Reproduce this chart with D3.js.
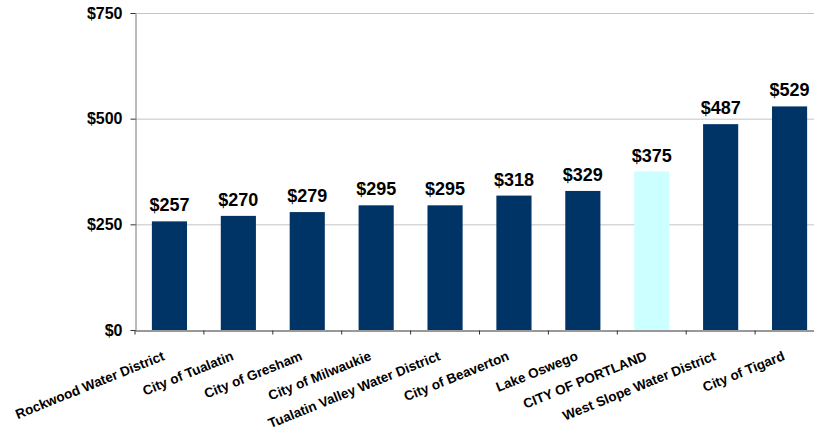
<!DOCTYPE html>
<html>
<head>
<meta charset="utf-8">
<script src="https://cdn.jsdelivr.net/npm/d3@7"></script>
<style>
  body { margin: 0; background: #fff; }
  svg { display: block; font-family: Arial, "Liberation Sans", sans-serif; }
</style>
</head>
<body>
<div id="chart"></div>
<script>
  // values
  const utilities = [
    "Rockwood Water District", "City of Tualatin", "City of Gresham", "City of Milwaukie",
    "Tualatin Valley Water District", "City of Beaverton", "Lake Oswego", "CITY OF PORTLAND",
    "West Slope Water District", "City of Tigard"
  ];
  const annualCost = [257, 270, 279, 295, 295, 318, 329, 375, 487, 529];
  const highlighted = ["CITY OF PORTLAND"];
  const yTickValues = [0, 250, 500, 750];

  (() => {
    const W = 814, H = 429;
    const plotLeft = 135, plotRight = 824, plotTop = 13, plotBottom = 330;

    const svg = d3.select("#chart").append("svg")
      .attr("width", W)
      .attr("height", H);

    const data = utilities.map((name, i) => ({ name, cost: annualCost[i] }));

    const x = d3.scaleBand()
      .domain(utilities)
      .range([plotLeft, plotRight])
      .paddingInner(0.49)
      .paddingOuter(0.245);

    // category slots (no padding) for the tick marks and labels
    const slot = d3.scaleBand().domain(utilities).range([plotLeft, plotRight]);

    const y = d3.scaleLinear()
      .domain([0, 750])
      .range([plotBottom, plotTop]);

    // Gridlines
    svg.append("g")
      .selectAll("line")
      .data(yTickValues.filter(d => d > 0))
      .join("line")
      .attr("x1", plotLeft)
      .attr("x2", W)
      .attr("y1", d => y(d) + 0.5)
      .attr("y2", d => y(d) + 0.5)
      .attr("stroke", "#c4c4c4")
      .attr("stroke-width", 1);

    // Bars
    svg.append("g")
      .selectAll("rect")
      .data(data)
      .join("rect")
      .attr("x", d => x(d.name))
      .attr("y", d => y(d.cost))
      .attr("width", x.bandwidth())
      .attr("height", d => y(0) - y(d.cost))
      .attr("fill", d => highlighted.includes(d.name) ? "#ccffff" : "#003366");

    // Value labels
    svg.append("g")
      .selectAll("text")
      .data(data)
      .join("text")
      .attr("x", d => x(d.name) + x.bandwidth() / 2)
      .attr("y", d => y(d.cost) - 10)
      .attr("text-anchor", "middle")
      .attr("font-size", 18)
      .attr("font-weight", "bold")
      .attr("fill", "#000")
      .text(d => "$" + d.cost);

    // Y axis
    const yAxis = svg.append("g")
      .attr("transform", `translate(${plotLeft + 0.5},0)`)
      .call(d3.axisLeft(y)
        .tickValues(yTickValues)
        .tickFormat(d => "$" + d)
        .tickSize(5)
        .tickSizeOuter(0)
        .tickPadding(8));
    yAxis.select(".domain").attr("stroke", "#777");
    yAxis.selectAll(".tick line").attr("stroke", "#333");
    yAxis.selectAll("text")
      .attr("font-size", 16)
      .attr("font-weight", "bold")
      .attr("fill", "#000")
      .style("font-family", "Arial, 'Liberation Sans', sans-serif");

    // X axis
    const xAxis = svg.append("g")
      .attr("transform", `translate(0,${plotBottom + 0.5})`)
      .call(d3.axisBottom(slot).tickSize(4).tickSizeOuter(0));
    xAxis.select(".domain").attr("stroke", "#333");
    xAxis.selectAll(".tick line")
      .attr("stroke", "#333")
      .attr("x1", -slot.step() / 2)
      .attr("x2", -slot.step() / 2);
    xAxis.selectAll("text")
      .attr("x", 0)
      .attr("y", 0)
      .attr("dy", 0)
      .attr("text-anchor", "end")
      .attr("transform", "translate(-4,29) rotate(-22)")
      .attr("font-size", 13.5)
      .attr("font-weight", "bold")
      .attr("fill", "#000")
      .style("font-family", "Arial, 'Liberation Sans', sans-serif");
  })();
</script>
</body>
</html>
